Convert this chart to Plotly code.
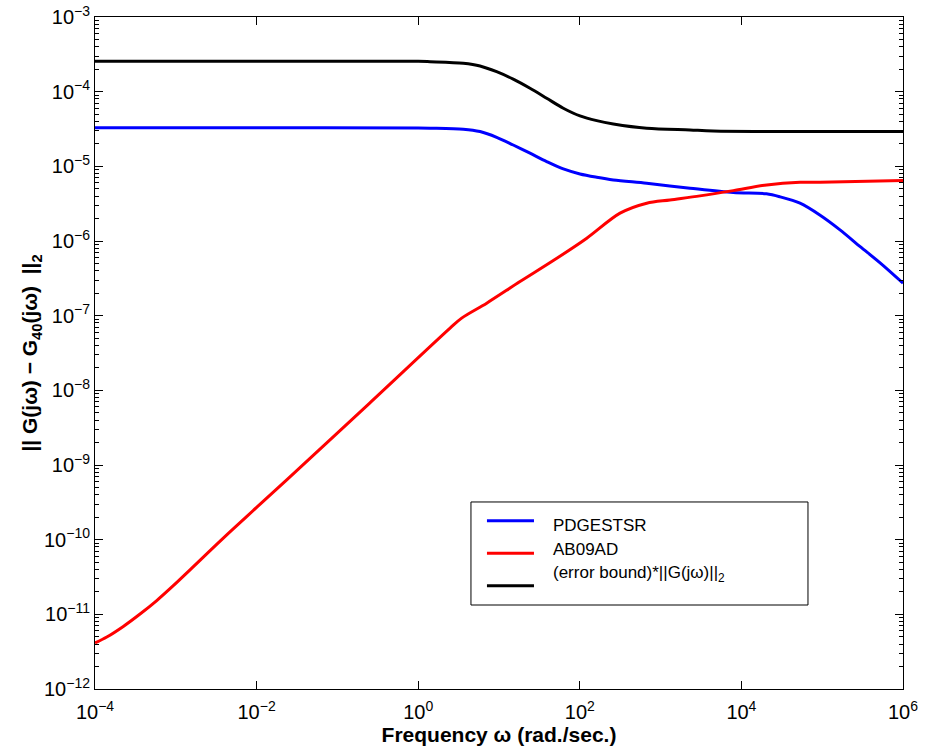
import plotly.graph_objects as go

# ---- data (frequency in rad/s, norm values) ----
freq_black = [1e-4, 1e-2, 1.0, 1.40, 3.61, 5.82, 9.35, 15.0, 24.2, 38.9, 62.5, 100.5,
              162, 260, 673, 2312, 4467, 1e5, 1e6]
val_black = [2.56e-4, 2.56e-4, 2.55e-4, 2.52e-4, 2.40e-4, 2.21e-4, 1.85e-4, 1.47e-4,
             1.11e-4, 8.17e-5, 6.00e-5, 4.73e-5, 4.09e-5, 3.70e-5, 3.24e-5, 3.07e-5,
             2.98e-5, 2.92e-5, 2.92e-5]

freq_blue = [1e-4, 1e-2, 1.0, 1.40, 3.61, 5.82, 9.35, 15.0, 24.2, 38.9, 62.5, 100.5,
             162, 260, 673, 2312, 7943, 2.04e4, 3.02e4, 5.31e4, 9.33e4, 1.66e5, 2.95e5,
             5.25e5, 1e6]
val_blue = [3.28e-5, 3.28e-5, 3.26e-5, 3.24e-5, 3.14e-5, 2.92e-5, 2.45e-5, 1.93e-5,
            1.50e-5, 1.16e-5, 9.23e-6, 7.91e-6, 7.14e-6, 6.58e-6, 5.94e-6, 5.09e-6,
            4.45e-6, 4.28e-6, 3.90e-6, 3.21e-6, 2.23e-6, 1.41e-6, 8.41e-7, 5.05e-7, 2.72e-7]

freq_red = [1e-4, 1.40e-4, 2.24e-4, 3.61e-4, 5.81e-4, 9.31e-4, 1.50e-3, 3.87e-3, 1e-2,
            2.36e-2, 0.251, 2.48, 3.45, 7.05, 18.2, 47.0, 122, 315, 673, 1306, 3069,
            7943, 2.06e4, 5.31e4, 9.4e4, 1e6]
val_red = [4.13e-12, 4.97e-12, 6.89e-12, 1.01e-11, 1.53e-11, 2.42e-11, 3.95e-11,
           1.05e-10, 2.70e-10, 6.34e-10, 6.76e-9, 6.81e-8, 9.27e-8, 1.47e-7, 2.86e-7,
           5.47e-7, 1.09e-6, 2.36e-6, 3.21e-6, 3.55e-6, 4.02e-6, 4.73e-6, 5.64e-6,
           6.12e-6, 6.12e-6, 6.44e-6]

series_names = ["PDGESTSR", "AB09AD", "(error bound)*||G(jω)||<sub>2</sub>"]
series_colors = ["#0000FF", "#FF0000", "#000000"]

x_exponents = [-4, -2, 0, 2, 4, 6]
y_exponents = [-12, -11, -10, -9, -8, -7, -6, -5, -4, -3]

FONT = "Liberation Sans, Arial, Helvetica, sans-serif"

fig = go.Figure()
for f, v, name, col in [(freq_blue, val_blue, series_names[0], series_colors[0]),
                        (freq_red, val_red, series_names[1], series_colors[1]),
                        (freq_black, val_black, series_names[2], series_colors[2])]:
    fig.add_trace(go.Scatter(x=f, y=v, mode="lines", name=name, showlegend=False,
                             line=dict(color=col, width=3, shape="spline", smoothing=0.9)))

# ---- manual legend box (MATLAB style) ----
lx0, lx1, ly0, ly1 = 0.4653, 0.8824, 0.125, 0.2783
fig.add_shape(type="rect", xref="paper", yref="paper", x0=lx0, x1=lx1, y0=ly0, y1=ly1,
              line=dict(color="black", width=1), fillcolor="white", layer="above")
line_x0, line_x1 = 0.4851, 0.5433
line_ys = [0.2505, 0.2019, 0.1537]
text_ys = [0.2440, 0.2075, 0.1715]
for ly, col in zip(line_ys, series_colors):
    fig.add_shape(type="line", xref="paper", yref="paper", x0=line_x0, x1=line_x1,
                  y0=ly, y1=ly, line=dict(color=col, width=3), layer="above")
for ty, txt in zip(text_ys, series_names):
    fig.add_annotation(xref="paper", yref="paper", x=0.5648, y=ty, text=txt,
                       showarrow=False, xanchor="left", yanchor="middle",
                       font=dict(family=FONT, size=17, color="black"))

axis_common = dict(
    type="log", showgrid=False, zeroline=False, showline=True, linecolor="black",
    linewidth=1, mirror="allticks", ticks="inside", ticklen=8, tickcolor="black",
    tickwidth=1, automargin=False,
    tickfont=dict(family=FONT, size=20, color="black"),
)

x_tickvals = [10.0 ** e for e in x_exponents]
x_ticktext = ["10<sup>%s</sup>" % (str(e).replace("-", "−")) for e in x_exponents]
y_tickvals = [10.0 ** e for e in y_exponents]
y_ticktext = ["10<sup>%s</sup>" % (str(e).replace("-", "−")) for e in y_exponents]
y_minor = [m * 10.0 ** e for e in y_exponents[:-1] for m in range(2, 10)]

fig.update_xaxes(
    **axis_common, range=[-4, 6], tickvals=x_tickvals, ticktext=x_ticktext,
    ticklabelstandoff=5,
    title=dict(text="<b>Frequency ω (rad./sec.)</b>", standoff=4,
               font=dict(family=FONT, size=21, color="black")),
)
fig.update_yaxes(
    **axis_common, range=[-12, -3], tickvals=y_tickvals, ticktext=y_ticktext,
    minor=dict(ticks="inside", tickvals=y_minor, ticklen=4, tickcolor="black",
               showgrid=False),
    title=dict(text="<b>|| G(jω) − G<sub>40</sub>(jω)  ||<sub>2</sub></b>", standoff=0,
               font=dict(family=FONT, size=21, color="black")),
)

fig.update_layout(
    width=928, height=748,
    margin=dict(l=95, r=25, t=17, b=59),
    plot_bgcolor="white", paper_bgcolor="white",
    showlegend=False,
)

fig.write_html("out.html")
